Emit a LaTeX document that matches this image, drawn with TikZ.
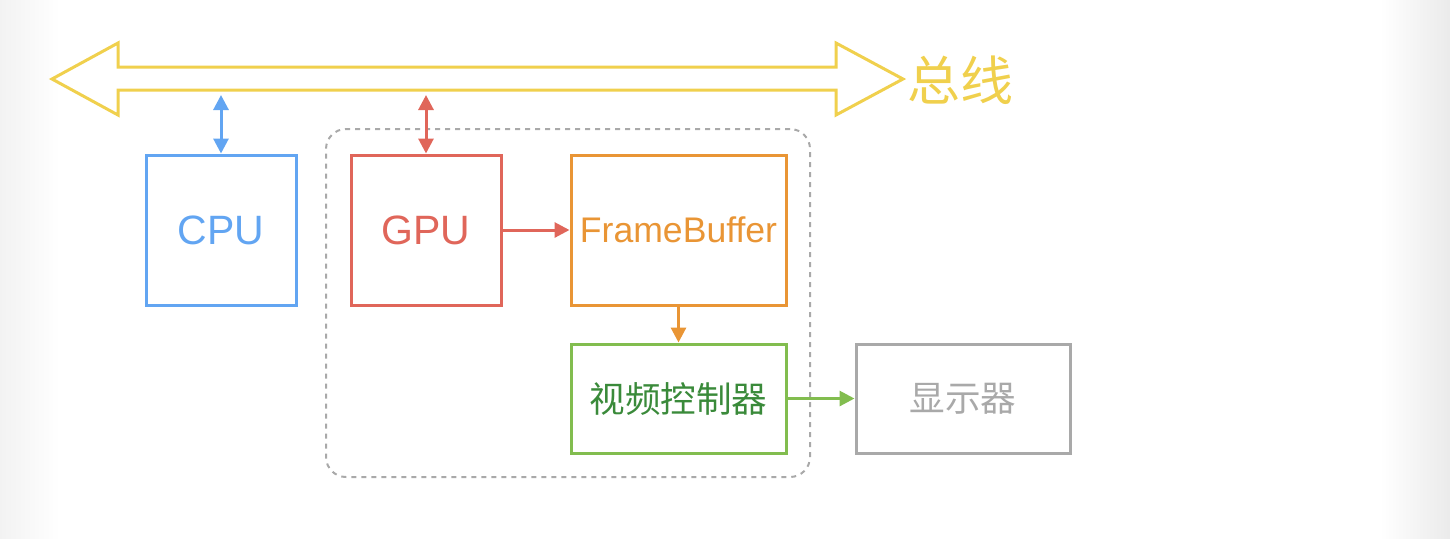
\documentclass[tikz,border=0pt]{standalone}
\usepackage{fontspec}
\setmainfont{Liberation Sans}
\newfontfamily\cjk{Noto Sans CJK SC}
\usetikzlibrary{arrows.meta,positioning}

\definecolor{busyellow}{HTML}{F0D04D}
\definecolor{cpublue}{HTML}{62A5F2}
\definecolor{gpured}{HTML}{E0665A}
\definecolor{fborange}{HTML}{E99535}
\definecolor{vcgreen}{HTML}{82BD4F}
\definecolor{vctext}{HTML}{3A8A3A}
\definecolor{dispgray}{HTML}{A9A9A9}

\begin{document}
\begin{tikzpicture}[x=0.5pt,y=-0.5pt]
		\tikzstyle {box} = [draw, line width=1.5pt, inner sep=0pt, minimum width=75pt, minimum height=75pt]
		\tikzstyle {wide} = [box, minimum width=107.5pt]
		\tikzstyle {link} = [line width=1.5pt, -{Triangle[length=7.5pt,width=7.5pt]}]
		\tikzstyle {dlink} = [line width=1.5pt, {Triangle[length=7.5pt,width=7.5pt]}-{Triangle[length=7.5pt,width=7.5pt]}]
		\tikzstyle {group} = [draw=dispgray, line width=1pt, dash pattern=on 2.5pt off 2.5pt, rounded corners=10pt]

		\useasboundingbox (0,0) rectangle (1450,538);
		\shade[left color=black!5, right color=white] (0,0) rectangle (60,538);
		\shade[left color=white, right color=black!8] (1380,0) rectangle (1450,538);

		% bus
		\draw[busyellow, line width=1.5pt, line join=miter] (52,79) -- (118,43) -- (118,67) -- (836,67) -- (836,43) -- (903,79)
			-- (836,115) -- (836,90) -- (118,90) -- (118,115) -- cycle;
		\node[text=busyellow, font=\cjk\fontsize{26.5}{26.5}\selectfont, anchor=west] (buslabel) at (900,80) {总线};
		\coordinate (cputap) at (221,95);
		\coordinate (gputap) at (426,95);

		% units
		\node[group, minimum width=242pt, minimum height=174pt] (gpugroup) at (568,303) {};
		\node[box, draw=cpublue, text=cpublue, font=\fontsize{20.5}{20.5}\selectfont] (cpu) at (221,230) {CPU};
		\node[box, draw=gpured, text=gpured, font=\fontsize{20.5}{20.5}\selectfont] (gpu) at (426,230) {GPU};
		\node[wide, draw=fborange, text=fborange, font=\fontsize{17.8}{17.8}\selectfont] (fb) at (678.5,230) {FrameBuffer};
		\node[wide, minimum height=54.5pt, draw=vcgreen, text=vctext, font=\cjk\fontsize{17.8}{17.8}\selectfont] (vc) at (678.5,398.5) {视频控制器};
		\node[wide, minimum width=107pt, minimum height=54.5pt, draw=dispgray, text=dispgray, font=\cjk\fontsize{17.8}{17.8}\selectfont] (disp) at (963,398.5) {显示器};

		% connectors
		\draw[dlink, cpublue] (cputap) -- (cpu);
		\draw[dlink, gpured] (gputap) -- (gpu);
		\draw[link, gpured] (gpu) -- (gpu -| fb.west);
		\draw[link, fborange] (fb) -- (vc);
		\draw[link, vcgreen] (vc) -- (vc -| disp.west);
	\end{tikzpicture}
\end{document}
